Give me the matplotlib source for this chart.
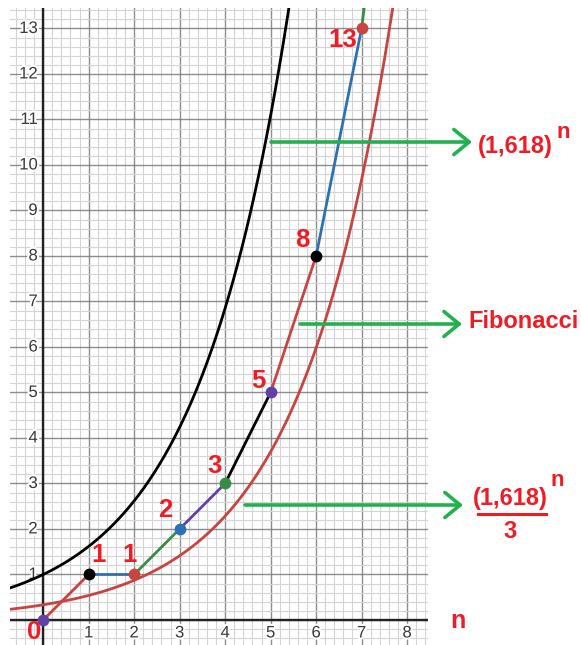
import numpy as np
import matplotlib
matplotlib.use("Agg")
import matplotlib.pyplot as plt
import matplotlib.patheffects as pe

# ---- data ----
fib_n = [0, 1, 2, 3, 4, 5, 6, 7, 8]
fib_v = [0, 1, 1, 2, 3, 5, 8, 13, 21]
phi = 1.618
curve_scale_black = 1.0
curve_scale_red = 3.0
x_ticks = [1, 2, 3, 4, 5, 6, 7, 8]
y_ticks = [1, 2, 3, 4, 5, 6, 7, 8, 9, 10, 11, 12, 13]
fib_labels = ["0", "1", "1", "2", "3", "5", "8", "13"]

RED = "#c74440"
BLUE = "#2d70b3"
GREEN = "#388c46"
PURPLE = "#6042a6"
BLACK = "#000000"
point_colors = [PURPLE, BLACK, RED, BLUE, GREEN]
LBL = "#ee1c24"
ARROW = "#22b14c"

W, H = 581, 645
fig = plt.figure(figsize=(W / 100, H / 100), dpi=100)
ax = fig.add_axes([10 / W, 0, 418 / W, 637 / H])
xmin, xmax = -0.73, 8.46
ymin, ymax = -0.55, 13.45
for s in ax.spines.values():
    s.set_visible(False)
ax.set_xticks(np.arange(-1, 9, 1.0))
ax.set_yticks(np.arange(-1, 14, 1.0))
ax.set_xticks(np.arange(-1, 9, 0.2), minor=True)
ax.set_yticks(np.arange(-1, 14, 0.2), minor=True)
ax.set_xlim(xmin, xmax)
ax.set_ylim(ymin, ymax)
ax.tick_params(which="both", length=0, labelbottom=False, labelleft=False)
ax.grid(which="major", color="#7a7a7a", lw=1.0, alpha=0.85)
ax.grid(which="minor", color="#d4d4d4", lw=0.8)
ax.set_axisbelow(True)

ax.axhline(0, color="#222222", lw=1.7, zorder=2)
ax.axvline(0, color="#222222", lw=1.7, zorder=2)

# tick labels
peff = [pe.withStroke(linewidth=3, foreground="white")]
for t in x_ticks:
    ax.text(t, -0.12, str(t), ha="center", va="top", fontsize=12,
            color="#3a3a3a", family="Liberation Sans", path_effects=peff, zorder=3)
for t in y_ticks:
    ax.text(-0.12, t, str(t), ha="right", va="center", fontsize=12,
            color="#3a3a3a", family="Liberation Sans", path_effects=peff, zorder=3)

# curves
xs = np.linspace(xmin, xmax, 400)
ax.plot(xs, phi ** xs / curve_scale_black, color=BLACK, lw=2.0, zorder=4)
ax.plot(xs, phi ** xs / curve_scale_red, color=RED, lw=2.0, zorder=4)

# fibonacci segments
seg_colors = [RED, BLUE, GREEN, PURPLE, BLACK]
for i in range(len(fib_n) - 1):
    ax.plot(fib_n[i:i + 2], fib_v[i:i + 2], color=seg_colors[i % 5], lw=2.0,
            zorder=5, solid_capstyle="round")
for i in range(len(fib_labels)):
    ax.plot(fib_n[i], fib_v[i], "o", ms=8.5, color=point_colors[i % 5],
            mec="none", zorder=6)

# red number labels
lab_pos = [(-0.2, -0.27), (1.21, 1.43), (1.89, 1.43), (2.68, 2.42),
           (3.76, 3.38), (4.72, 5.25), (5.69, 8.35), (6.59, 12.75)]
for (lx, ly), s in zip(lab_pos, fib_labels):
    ax.text(lx, ly, s, ha="center", va="center", fontsize=18.5, fontweight="bold",
            color=LBL, family="Liberation Sans", zorder=7, clip_on=False)

# annotations outside, in figure pixels
def fp(x, y):
    return (x / W, 1 - y / H)

fig.text(*fp(458, 621), "n", ha="center", va="center", fontsize=18,
         fontweight="bold", color=LBL, family="Liberation Sans")

arrows = [(271, 472, 142), (300, 462, 324), (245, 463, 505)]
for x0, x1, y in arrows:
    fig.add_artist(matplotlib.patches.FancyArrowPatch(
        fp(x0, y), fp(x1, y), transform=fig.transFigure,
        arrowstyle="->,head_length=0.55,head_width=0.45", mutation_scale=20,
        color=ARROW, lw=2.6, shrinkA=0, shrinkB=0, capstyle="round",
        joinstyle="round"))

fig.text(*fp(515, 146), "(1,618)", ha="center", va="center", fontsize=17,
         fontweight="bold", color=LBL, family="Liberation Sans")
fig.text(*fp(563, 132), "n", ha="center", va="center", fontsize=16,
         fontweight="bold", color=LBL, family="Liberation Sans")

fig.text(*fp(523, 322), "Fibonacci", ha="center", va="center", fontsize=17,
         fontweight="bold", color=LBL, family="Liberation Sans")

fig.text(*fp(510, 498), "(1,618)", ha="center", va="center", fontsize=17,
         fontweight="bold", color=LBL, family="Liberation Sans")
fig.text(*fp(557, 480), "n", ha="center", va="center", fontsize=16,
         fontweight="bold", color=LBL, family="Liberation Sans")
fig.add_artist(matplotlib.lines.Line2D([478 / W, 546 / W], [1 - 514 / H, 1 - 514 / H],
                                       color=LBL, lw=2.2, transform=fig.transFigure))
fig.text(*fp(510, 531), "3", ha="center", va="center", fontsize=17,
         fontweight="bold", color=LBL, family="Liberation Sans")

fig.savefig("out.png", dpi=100)
